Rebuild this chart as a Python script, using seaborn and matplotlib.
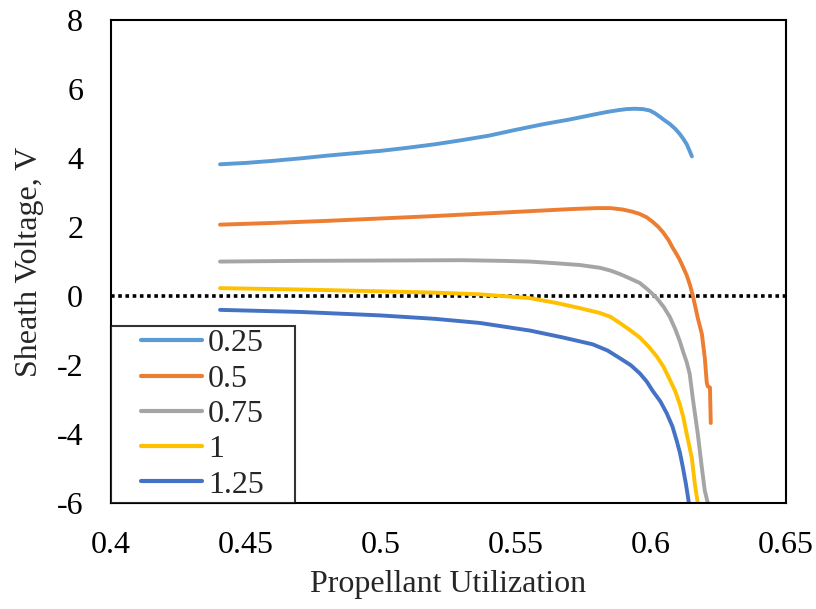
import numpy as np
import pandas as pd
import matplotlib
matplotlib.use("Agg")
import matplotlib.pyplot as plt
from matplotlib.lines import Line2D
from matplotlib.legend_handler import HandlerLine2D
import seaborn as sns

# ---- data ----
x_025 = [0.4404, 0.45, 0.46, 0.47, 0.48, 0.49, 0.50, 0.51, 0.52, 0.53, 0.54, 0.55,
         0.56, 0.57, 0.575, 0.58, 0.584, 0.588, 0.591, 0.594, 0.597, 0.5996,
         0.6015, 0.6033, 0.605, 0.607, 0.609, 0.6107, 0.612, 0.6133, 0.6143, 0.6152]
y_025 = [3.82, 3.86, 3.92, 3.99, 4.07, 4.14, 4.21, 4.30, 4.40, 4.52, 4.65, 4.82,
         4.98, 5.12, 5.20, 5.28, 5.34, 5.39, 5.42, 5.43, 5.42, 5.38,
         5.30, 5.20, 5.10, 4.99, 4.85, 4.70, 4.56, 4.40, 4.22, 4.05]

x_05 = [0.4404, 0.46, 0.48, 0.50, 0.52, 0.54, 0.56, 0.57, 0.58, 0.585, 0.5895,
        0.593, 0.5959, 0.5985, 0.6007, 0.6027, 0.6045, 0.6065, 0.6081, 0.6095,
        0.6107, 0.612, 0.6133, 0.6145, 0.6156, 0.6165, 0.6174, 0.6189, 0.6200,
        0.6207, 0.6211, 0.6219, 0.6222]
y_05 = [2.07, 2.12, 2.18, 2.25, 2.32, 2.40, 2.48, 2.52, 2.55, 2.55, 2.51,
        2.45, 2.38, 2.28, 2.15, 2.01, 1.85, 1.63, 1.40, 1.22,
        1.05, 0.83, 0.60, 0.32, 0.00, -0.32, -0.64, -1.10, -1.80,
        -2.50, -2.62, -2.65, -3.68]

x_075 = [0.4404, 0.47, 0.50, 0.53, 0.545, 0.5552, 0.565, 0.5737, 0.5811, 0.585,
         0.5885, 0.592, 0.5959, 0.599, 0.6022, 0.6048, 0.6070, 0.609, 0.6107,
         0.6119, 0.6133, 0.6144, 0.6156, 0.6165, 0.6174, 0.6189, 0.6200, 0.6211]
y_075 = [1.00, 1.02, 1.03, 1.04, 1.02, 1.00, 0.95, 0.90, 0.82, 0.74,
         0.64, 0.52, 0.38, 0.18, -0.06, -0.32, -0.60, -0.95, -1.30,
         -1.60, -1.92, -2.26, -3.00, -3.50, -4.00, -4.98, -5.65, -6.00]

x_1 = [0.4404, 0.47, 0.4985, 0.52, 0.5367, 0.5552, 0.565, 0.5737, 0.5811, 0.585,
       0.5885, 0.592, 0.5959, 0.599, 0.6022, 0.6047, 0.6070, 0.609, 0.6107,
       0.612, 0.6133, 0.6152, 0.6163, 0.6174]
y_1 = [0.23, 0.19, 0.14, 0.10, 0.05, -0.06, -0.20, -0.35, -0.49, -0.60,
       -0.78, -0.97, -1.20, -1.45, -1.75, -2.05, -2.42, -2.75, -3.13,
       -3.50, -4.00, -4.70, -5.45, -6.00]

x_125 = [0.4404, 0.47, 0.4996, 0.52, 0.5367, 0.5552, 0.5674, 0.5785, 0.584, 0.5885,
         0.5925, 0.5959, 0.5985, 0.6007, 0.6035, 0.6059, 0.608, 0.6096, 0.6108,
         0.6119, 0.613, 0.6141]
y_125 = [-0.40, -0.46, -0.56, -0.66, -0.78, -1.00, -1.20, -1.40, -1.58, -1.80,
         -2.00, -2.24, -2.48, -2.75, -3.05, -3.40, -3.78, -4.20, -4.55,
         -4.98, -5.45, -6.00]

labels = ["0.25", "0.5", "0.75", "1", "1.25"]
colors = ["#5B9BD5", "#ED7D31", "#A5A5A5", "#FFC000", "#4472C4"]
x_ticks = [0.4, 0.45, 0.5, 0.55, 0.6, 0.65]
x_tick_labels = ["0.4", "0.45", "0.5", "0.55", "0.6", "0.65"]
y_ticks = [-6, -4, -2, 0, 2, 4, 6, 8]

series = [(x_025, y_025), (x_05, y_05), (x_075, y_075), (x_1, y_1), (x_125, y_125)]
frames = []
for lab, (xs, ys) in zip(labels, series):
    frames.append(pd.DataFrame({"x": xs, "y": ys, "series": lab}))
df = pd.concat(frames, ignore_index=True)

sns.set_style("white")
plt.rcParams["font.family"] = ["Liberation Serif", "DejaVu Serif"]

FS = 23

fig = plt.figure(figsize=(8.16, 6.09), dpi=100)
ax = fig.add_axes([0.136, 0.174, 0.827, 0.793])

sns.lineplot(data=df, x="x", y="y", hue="series", hue_order=labels,
             palette=colors, sort=False, estimator=None, units="series",
             linewidth=2.8, ax=ax, legend=True)
for ln in ax.get_lines():
    ln.set_solid_joinstyle("round")
    ln.set_solid_capstyle("round")

ax.axhline(0, color="black", linestyle=(0, (1, 1)), linewidth=2.6, zorder=1)

ax.set_xlim(0.4, 0.65)
ax.set_ylim(-6, 8)
ax.set_xticks(x_ticks)
ax.set_xticklabels(x_tick_labels)
ax.set_yticks(y_ticks)
ax.set_yticklabels([str(v) for v in y_ticks])
ax.tick_params(direction="in", length=6.5, width=1.3, labelsize=FS, color="black",
               labelcolor="black")
ax.tick_params(axis="y", pad=20)
ax.tick_params(axis="x", pad=20)
for s in ax.spines.values():
    s.set_color("black")
    s.set_linewidth(1.5)

ax.set_xlabel("Propellant Utilization", fontsize=FS, labelpad=7)
ax.set_ylabel("Sheath Voltage, V", fontsize=FS, labelpad=9)


class OffsetLine(HandlerLine2D):
    def __init__(self, frac, **kw):
        super().__init__(**kw)
        self.frac = frac

    def get_xdata(self, legend, xdescent, ydescent, width, height, fontsize):
        xd = np.array([-xdescent + self.frac * width, -xdescent + width])
        return xd, xd


handles, labs = ax.get_legend_handles_labels()
leg = ax.legend(handles, labs, loc="lower left", bbox_to_anchor=(0, 0, 0.2726, 0.5),
                mode="expand", borderaxespad=0, fontsize=FS, frameon=True,
                fancybox=False, handlelength=2.75, handletextpad=0.18,
                labelspacing=0.185, borderpad=0.11,
                handler_map={Line2D: OffsetLine(0.305)})
leg.get_frame().set_edgecolor("black")
leg.get_frame().set_linewidth(1.5)
for line in leg.get_lines():
    line.set_linewidth(3)
    line.set_solid_capstyle("round")

fig.savefig("out.png", dpi=100)
